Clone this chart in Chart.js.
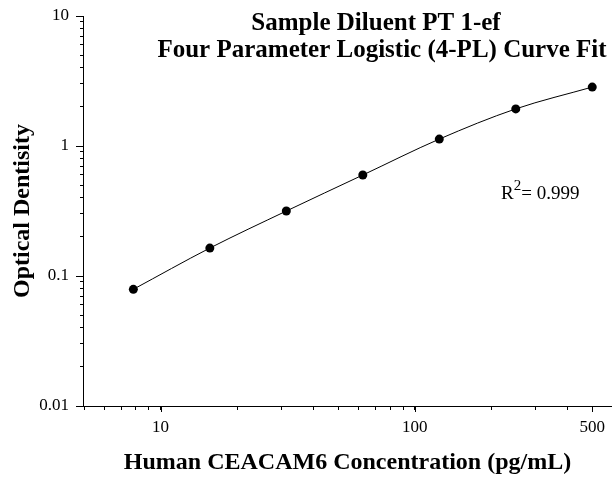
<!DOCTYPE html>
<html>
<head>
<meta charset="utf-8">
<script src="https://cdn.jsdelivr.net/npm/chart.js@4"></script>
<style>
  html, body { margin: 0; padding: 0; background: #fff; }
  #wrap { width: 612px; height: 477px; }
</style>
</head>
<body>
<div id="wrap"><canvas id="c" width="612" height="477"></canvas></div>
<script>
// ---- data ----
const concentrations = [7.8125, 15.625, 31.25, 62.5, 125, 250, 500];
const opticalDensity = [0.079, 0.164, 0.316, 0.598, 1.13, 1.93, 2.84];
const xTicks = [5, 6, 7, 8, 9, 10, 20, 30, 40, 50, 60, 70, 80, 90, 100, 200, 300, 400, 500];
const xMajor = [10, 100, 500];
const yTicks = [0.01, 0.02, 0.03, 0.04, 0.05, 0.06, 0.07, 0.08, 0.09,
                0.1, 0.2, 0.3, 0.4, 0.5, 0.6, 0.7, 0.8, 0.9,
                1, 2, 3, 4, 5, 6, 7, 8, 9, 10];
const yMajor = [0.01, 0.1, 1, 10];
const titleLines = ['Sample Diluent PT 1-ef', 'Four Parameter Logistic (4-PL) Curve Fit'];
const xTitle = 'Human CEACAM6 Concentration (pg/mL)';
const yTitle = 'Optical Dentisity';
const rSquared = '0.999';

const SERIF = "'Liberation Serif', 'Times New Roman', serif";
const isMajor = (list, v) => list.some(m => Math.abs(m - v) < 1e-9 * Math.max(1, m));

const overlay = {
  id: 'overlay',
  afterDraw(chart) {
    const ctx = chart.ctx;
    const xs = chart.scales.x, ys = chart.scales.y;
    ctx.save();
    ctx.strokeStyle = '#000';
    ctx.lineWidth = 1;
    // extend major tick marks
    ctx.beginPath();
    xMajor.forEach(v => {
      const px = Math.round(xs.getPixelForValue(v)) + 0.5;
      ctx.moveTo(px, xs.top);
      ctx.lineTo(px, xs.top + 6);
    });
    yMajor.forEach(v => {
      const py = Math.round(ys.getPixelForValue(v)) + 0.5;
      ctx.moveTo(ys.right, py);
      ctx.lineTo(ys.right - 7, py);
    });
    ctx.stroke();
    // main title
    ctx.fillStyle = '#000';
    ctx.textAlign = 'center';
    ctx.textBaseline = 'alphabetic';
    ctx.font = 'bold 25px ' + SERIF;
    ctx.fillText(titleLines[0], 376, 30);
    ctx.fillText(titleLines[1], 382, 57);
    // R squared
    ctx.textAlign = 'left';
    ctx.font = '19px ' + SERIF;
    let x = 501, y = 199;
    ctx.fillText('R', x, y);
    x += ctx.measureText('R').width;
    ctx.font = '15px ' + SERIF;
    ctx.fillText('2', x, y - 9);
    x += ctx.measureText('2').width;
    ctx.font = '19px ' + SERIF;
    ctx.fillText('= ' + rSquared, x, y);
    ctx.restore();
  }
};

new Chart(document.getElementById('c'), {
  type: 'scatter',
  data: {
    datasets: [{
      data: concentrations.map((c, i) => ({ x: c, y: opticalDensity[i] })),
      showLine: true,
      borderColor: '#000',
      borderWidth: 1,
      cubicInterpolationMode: 'monotone',
      backgroundColor: '#000',
      pointRadius: 4.5,
      pointHoverRadius: 4.5,
      pointBorderWidth: 0,
      clip: false
    }]
  },
  options: {
    responsive: false,
    animation: false,
    devicePixelRatio: 1,
    layout: { autoPadding: false, padding: { top: 16, right: 0, left: 0, bottom: 0 } },
    plugins: { legend: { display: false }, tooltip: { enabled: false } },
    scales: {
      x: {
        type: 'logarithmic',
        min: 4.95, max: 598,
        afterBuildTicks: s => { s.ticks = xTicks.map(v => ({ value: v })); },
        afterFit: s => { s.height = 71; s.paddingLeft = 0; s.paddingRight = 0; },
        ticks: {
          autoSkip: false, maxRotation: 0, padding: 7,
          color: '#000', font: { family: SERIF, size: 17 },
          callback: v => isMajor(xMajor, v) ? String(v) : ''
        },
        grid: { display: true, drawOnChartArea: false, tickLength: 4, color: '#000', lineWidth: 1 },
        border: { display: true, color: '#000', width: 1 },
        title: {
          display: true, text: xTitle, color: '#000',
          font: { family: SERIF, size: 24, weight: 'bold' },
          padding: { top: 4, bottom: 0 }
        }
      },
      y: {
        type: 'logarithmic',
        min: 0.01, max: 10,
        afterBuildTicks: s => { s.ticks = yTicks.map(v => ({ value: v })); },
        afterFit: s => { s.width = 83; s.paddingTop = 0; s.paddingBottom = 0; },
        ticks: {
          autoSkip: false, padding: 11,
          color: '#000', font: { family: SERIF, size: 17 },
          callback: v => isMajor(yMajor, v) ? String(v) : ''
        },
        grid: { display: true, drawOnChartArea: false, tickLength: 3, color: '#000', lineWidth: 1 },
        border: { display: true, color: '#000', width: 1 },
        title: {
          display: true, text: yTitle, color: '#000',
          font: { family: SERIF, size: 24, weight: 'bold' },
          padding: { top: 8, bottom: 0 }
        }
      }
    }
  },
  plugins: [overlay]
});
</script>
</body>
</html>
